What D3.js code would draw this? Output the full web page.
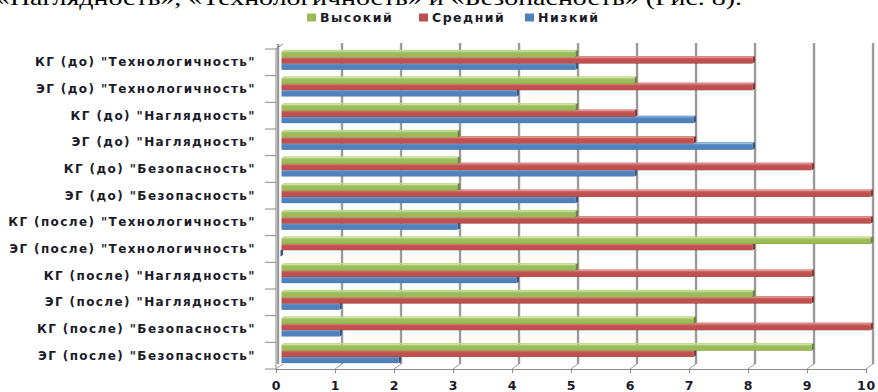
<!DOCTYPE html>
<html><head><meta charset="utf-8">
<script src="https://cdn.jsdelivr.net/npm/d3@7"></script>
<style>body{margin:0;background:#fff;overflow:hidden}</style>
</head><body><svg id="c" width="878" height="392"></svg>
<script>
const categories = [
  'КГ (до) "Технологичность"',
  'ЭГ (до) "Технологичность"',
  'КГ (до) "Наглядность"',
  'ЭГ (до) "Наглядность"',
  'КГ (до) "Безопасность"',
  'ЭГ (до) "Безопасность"',
  'КГ (после) "Технологичность"',
  'ЭГ (после) "Технологичность"',
  'КГ (после) "Наглядность"',
  'ЭГ (после) "Наглядность"',
  'КГ (после) "Безопасность"',
  'ЭГ (после) "Безопасность"'
];
const seriesNames = ["Высокий", "Средний", "Низкий"];
const highValues = [5, 6, 5, 3, 3, 3, 5, 10, 5, 8, 7, 9];
const midValues  = [8, 8, 6, 7, 9, 10, 10, 8, 9, 9, 10, 7];
const lowValues  = [5, 4, 7, 8, 6, 5, 3, 0, 4, 1, 1, 2];
const xTicks = [0, 1, 2, 3, 4, 5, 6, 7, 8, 9, 10];
const caption = "«Наглядность», «Технологичность» и «Безопасность» (Рис. 8).";

const seriesValues = [highValues, midValues, lowValues];
const colors = {
  "Высокий": {base:"#9BBB59", light:"#b7d180", dark:"#7d9b40", cap:"#6a8536", top:"#c4da95"},
  "Средний": {base:"#C0504D", light:"#d3716e", dark:"#a23e3b", cap:"#8a3330", top:"#d98a88"},
  "Низкий":  {base:"#4F81BD", light:"#6d99cf", dark:"#3d6aa2", cap:"#30598a", top:"#8aaedb"}
};

const svg = d3.select("#c");
const defs = svg.append("defs");
seriesNames.forEach((s, i) => {
  const g = defs.append("linearGradient").attr("id", "g" + i)
    .attr("x1", 0).attr("y1", 0).attr("x2", 0).attr("y2", 1);
  g.append("stop").attr("offset", "0").attr("stop-color", colors[s].light);
  g.append("stop").attr("offset", "0.35").attr("stop-color", colors[s].base);
  g.append("stop").attr("offset", "0.85").attr("stop-color", colors[s].base);
  g.append("stop").attr("offset", "1").attr("stop-color", colors[s].dark);
});
const gg = defs.append("linearGradient").attr("id", "grid")
  .attr("x1", 0).attr("y1", 0).attr("x2", 1).attr("y2", 0);
gg.append("stop").attr("offset", "0").attr("stop-color", "#dedede");
gg.append("stop").attr("offset", "0.5").attr("stop-color", "#7c7c7c");
gg.append("stop").attr("offset", "1").attr("stop-color", "#d2d2d2");

const font = "'DejaVu Sans', Verdana, sans-serif";
const textColor = "#1a1a28";

// caption (cut off at top, as in the source image)
svg.append("text").attr("x", -4).attr("y", 5)
  .attr("font-family", "'Liberation Serif', 'DejaVu Serif', serif")
  .attr("font-size", 22).attr("fill", "#000")
  .attr("textLength", 746).attr("lengthAdjust", "spacingAndGlyphs")
  .text(caption);

// scales
const x = d3.scaleLinear().domain([0, 10]).range([276, 866]);
const y = d3.scaleBand().domain(categories).range([49, 369]);
const sub = d3.scaleBand().domain(seriesNames).range([2.2, 20.8]);
const dx = 7, dy = -5;

// back wall gridlines
svg.append("g").selectAll("rect").data(xTicks.slice(1)).join("rect")
  .attr("x", d => x(d) + dx - 1.5).attr("y", 49 + dy - 1)
  .attr("width", 3).attr("height", 320 + 1)
  .attr("fill", "url(#grid)");

// left wall
svg.append("rect").attr("x", 276.5).attr("y", 49 + dy)
  .attr("width", 3).attr("height", 320).attr("fill", "url(#grid)");
svg.append("path")
  .attr("d", `M276,49 L${276 + dx},${49 + dy}`)
  .attr("stroke", "#8a8a8a").attr("fill", "none");
svg.append("line").attr("x1", 276).attr("x2", 276).attr("y1", 49).attr("y2", 369)
  .attr("stroke", "#8a8a8a");

// floor diagonals
svg.append("g").selectAll("line").data(xTicks).join("line")
  .attr("x1", d => x(d)).attr("y1", 369)
  .attr("x2", d => x(d) + dx).attr("y2", 369 + dy)
  .attr("stroke", "#9a9a9a").attr("stroke-width", 1);

// category boundary ticks
const bounds = categories.map(c => y(c)).concat([369]);
svg.append("g").selectAll("line").data(bounds).join("line")
  .attr("x1", 265).attr("x2", 276)
  .attr("y1", d => d).attr("y2", d => d)
  .attr("stroke", "#8a8a8a");

// bars
const barsG = svg.append("g");
categories.forEach((cat, ci) => {
  const order = [2, 1, 0];
  order.forEach(si => {
    const s = seriesNames[si];
    const v = seriesValues[si][ci];
    const x0 = 281.5;
    const xe = x(v) + 4.5;
    const yt = y(cat) + sub(s);
    const h = sub.bandwidth();
    const c = colors[s];
    const g = barsG.append("g");
    g.append("path")
      .attr("d", `M${x0},${yt} L${x0 + 2.5},${yt - 1.5} L${xe + 2.5},${yt - 1.5} L${xe},${yt} Z`)
      .attr("fill", c.top);
    g.append("rect").attr("x", x0).attr("y", yt)
      .attr("width", Math.max(0, xe - x0)).attr("height", h)
      .attr("fill", `url(#g${si})`);
    g.append("path")
      .attr("d", `M${xe},${yt} L${xe + 2.5},${yt - 1.5} L${xe + 2.5},${yt + h - 1.5} L${xe},${yt + h} Z`)
      .attr("fill", c.cap);
  });
});

// left axis labels
const yAxis = d3.axisLeft(y).tickSizeInner(0).tickSizeOuter(0).tickPadding(20);
const ya = svg.append("g").attr("transform", "translate(276,0)").call(yAxis);
ya.select(".domain").remove();
ya.selectAll("text").attr("font-family", font).attr("font-size", 12)
  .attr("font-weight", "bold").attr("letter-spacing", "1.4px").attr("fill", textColor);

// bottom axis
const xAxis = d3.axisBottom(x).tickValues(xTicks).tickSizeInner(4).tickSizeOuter(0).tickPadding(8.5);
const xa = svg.append("g").attr("transform", "translate(0,369)").call(xAxis);
xa.select(".domain").attr("stroke", "#8a8a8a");
xa.selectAll(".tick line").attr("stroke", "#8a8a8a");
xa.selectAll("text").attr("font-family", font).attr("font-size", 12.5)
  .attr("font-weight", "bold").attr("letter-spacing", "0.8px").attr("fill", textColor);

// legend
const legendX = [307, 419, 525];
const lg = svg.append("g");
seriesNames.forEach((s, i) => {
  lg.append("rect").attr("x", legendX[i]).attr("y", 13.5).attr("width", 9).attr("height", 8)
    .attr("fill", colors[s].base);
  lg.append("text").attr("x", legendX[i] + 13).attr("y", 21.5)
    .attr("font-family", font).attr("font-size", 12.5).attr("font-weight", "bold")
    .attr("letter-spacing", "1.5px")
    .attr("fill", textColor).text(s);
});
</script>
</body></html>
